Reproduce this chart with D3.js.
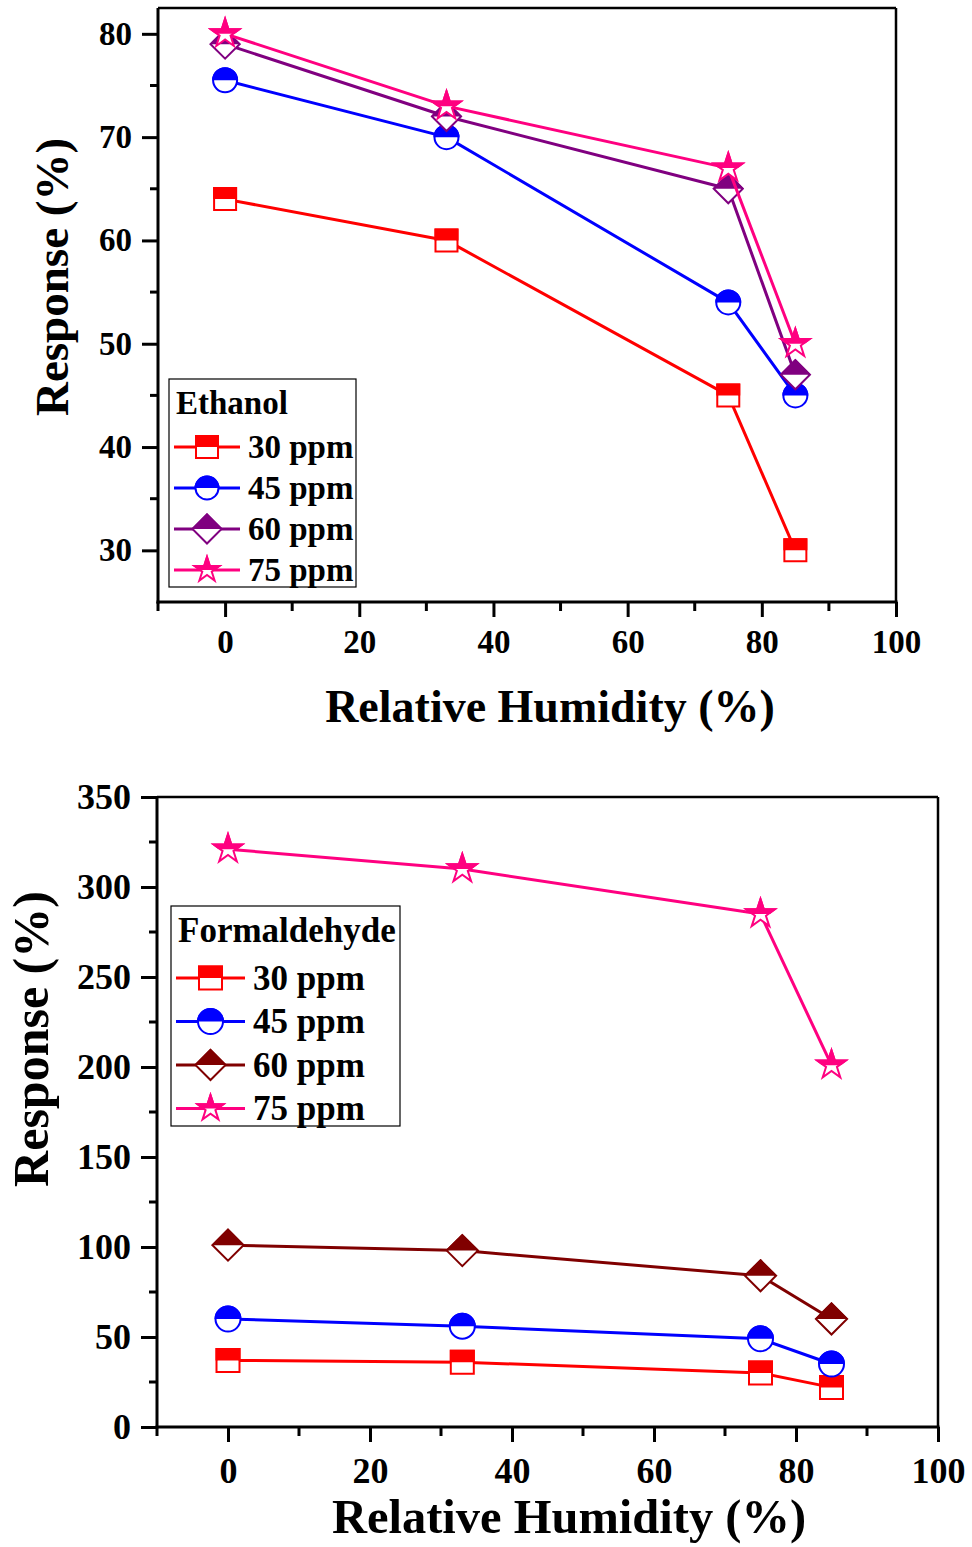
<!DOCTYPE html>
<html>
<head>
<meta charset="utf-8">
<script src="https://cdn.jsdelivr.net/npm/d3@7"></script>
<style>
  body { margin: 0; background: #fff; }
  svg text { font-family: "Liberation Serif", "Times New Roman", serif; font-weight: bold; fill: #000; }
</style>
</head>
<body>
<svg id="chart" width="972" height="1547"></svg>
<script>
// ---- data ----
const humidity = [0, 33, 75, 85];
const concLabels = ["30 ppm", "45 ppm", "60 ppm", "75 ppm"];

const ethanol30 = [64, 60, 45, 30];
const ethanol45 = [75.5, 70, 54, 45];
const ethanol60 = [79, 72, 65, 47];
const ethanol75 = [80, 73, 67, 50];

const formal30 = [37, 36, 30, 22];
const formal45 = [60, 56, 49, 35];
const formal60 = [101, 98, 84, 60];
const formal75 = [321, 310, 285, 201];

const xTicks = [0, 20, 40, 60, 80, 100];
const xMinor = [-10, 10, 30, 50, 70, 90];
const ethanolYTicks = [30, 40, 50, 60, 70, 80];
const ethanolYMinor = [35, 45, 55, 65, 75];
const formalYTicks = [0, 50, 100, 150, 200, 250, 300, 350];
const formalYMinor = [25, 75, 125, 175, 225, 275, 325];

const shapes = ["square", "circle", "diamond", "star"];

const svg = d3.select("#chart");

// clip used to fill only the top half of every marker
svg.append("defs").append("clipPath")
   .attr("id", "tophalf")
   .append("rect")
   .attr("x", -50).attr("y", -50).attr("width", 100).attr("height", 50);

function shapePath(type, s) {
  if (type == "square") return `M${-s},${-s}H${s}V${s}H${-s}Z`;
  if (type == "diamond") return `M0,${-s}L${s},0L0,${s}L${-s},0Z`;
  if (type == "circle") {
    const p = d3.path();
    p.arc(0, 0, s, 0, 2 * Math.PI);
    p.closePath();
    return p.toString();
  }
  // five point star
  const pts = [];
  for (let i = 0; i < 10; i++) {
    const r = i % 2 == 0 ? s : s * 0.382;
    const a = -Math.PI / 2 + i * Math.PI / 5;
    pts.push([r * Math.cos(a), r * Math.sin(a)]);
  }
  return "M" + pts.map(p => p.join(",")).join("L") + "Z";
}

function marker(g, type, s, color) {
  g.append("path").attr("d", shapePath(type, s))
   .attr("fill", "#fff").attr("stroke", color).attr("stroke-width", 2);
  g.append("path").attr("d", shapePath(type, s))
   .attr("fill", color).attr("stroke", color).attr("stroke-width", 2)
   .attr("clip-path", "url(#tophalf)");
}

function drawPanel(p) {
  const x = d3.scaleLinear().domain([-10, 100]).range([p.left, p.right]);
  const y = d3.scaleLinear().domain(p.yDomain).range([p.bottom, p.top]);
  const g = svg.append("g");

  // x axis ticks + labels
  const xAxis = g.append("g")
     .attr("transform", `translate(0,${p.bottom})`)
     .call(d3.axisBottom(x).tickValues(xTicks).tickSize(15).tickPadding(p.xPad).tickFormat(d3.format("d")));
  xAxis.select(".domain").remove();
  xAxis.selectAll("line").attr("stroke-width", 3);
  xAxis.selectAll("text").attr("font-size", p.tickFont).attr("fill", "#000")
       .attr("font-family", "Liberation Serif").attr("font-weight", "bold");
  g.selectAll(".xminor").data(xMinor).join("line")
   .attr("x1", d => x(d)).attr("x2", d => x(d))
   .attr("y1", p.bottom).attr("y2", p.bottom + 9)
   .attr("stroke", "#000").attr("stroke-width", 3);

  // y axis ticks + labels
  const yAxis = g.append("g")
     .attr("transform", `translate(${p.left},0)`)
     .call(d3.axisLeft(y).tickValues(p.yTicks).tickSize(16).tickPadding(10).tickFormat(d3.format("d")));
  yAxis.select(".domain").remove();
  yAxis.selectAll("line").attr("stroke-width", 3);
  yAxis.selectAll("text").attr("font-size", p.tickFont).attr("fill", "#000")
       .attr("font-family", "Liberation Serif").attr("font-weight", "bold");
  g.selectAll(".yminor").data(p.yMinor).join("line")
   .attr("x1", p.left - 8).attr("x2", p.left)
   .attr("y1", d => y(d)).attr("y2", d => y(d))
   .attr("stroke", "#000").attr("stroke-width", 3);

  // frame
  g.append("line").attr("x1", p.left).attr("x2", p.right).attr("y1", p.top).attr("y2", p.top)
   .attr("stroke", "#000").attr("stroke-width", 2.5);
  g.append("line").attr("x1", p.right).attr("x2", p.right).attr("y1", p.top).attr("y2", p.bottom)
   .attr("stroke", "#000").attr("stroke-width", 2.5);
  g.append("line").attr("x1", p.left).attr("x2", p.left).attr("y1", p.top).attr("y2", p.bottom + 1.5)
   .attr("stroke", "#000").attr("stroke-width", 3);
  g.append("line").attr("x1", p.left - 1.5).attr("x2", p.right + 1.5).attr("y1", p.bottom).attr("y2", p.bottom)
   .attr("stroke", "#000").attr("stroke-width", 3);

  // axis titles
  g.append("text").attr("x", p.xTitleX).attr("y", p.xTitleY)
   .attr("text-anchor", "middle").attr("font-size", p.titleFont)
   .text("Relative Humidity (%)");
  g.append("text")
   .attr("transform", `translate(${p.yTitleX},${p.yTitleY}) rotate(-90)`)
   .attr("text-anchor", "middle").attr("font-size", p.yTitleFont)
   .text("Response (%)");

  // series
  const line = d3.line().x((d, i) => x(humidity[i])).y(d => y(d));
  p.series.forEach((vals, k) => {
    g.append("path").datum(vals).attr("d", line)
     .attr("fill", "none").attr("stroke", p.colors[k]).attr("stroke-width", 3)
     .attr("stroke-linejoin", "round");
    vals.forEach((v, i) => {
      const m = g.append("g").attr("transform", `translate(${x(humidity[i])},${y(v)})`);
      marker(m, shapes[k], p.sizes[k], p.colors[k]);
    });
  });

  // legend
  const L = p.legend;
  g.append("rect").attr("x", L.x).attr("y", L.y).attr("width", L.w).attr("height", L.h)
   .attr("fill", "#fff").attr("stroke", "#000").attr("stroke-width", 1.2);
  g.append("text").attr("x", L.x + 7).attr("y", L.titleY).attr("font-size", L.font).text(p.name);
  concLabels.forEach((lab, k) => {
    const ry = L.row0 + k * L.step;
    g.append("line").attr("x1", L.x + 5).attr("x2", L.x + L.lineW).attr("y1", ry).attr("y2", ry)
     .attr("stroke", p.colors[k]).attr("stroke-width", 3);
    const m = g.append("g").attr("transform", `translate(${L.x + 5 + (L.lineW - 5) / 2},${ry})`);
    marker(m, shapes[k], L.sizes[k], p.colors[k]);
    g.append("text").attr("x", L.x + L.lineW + 8).attr("y", ry).attr("dy", "0.34em")
     .attr("font-size", L.font).text(lab);
  });
}

drawPanel({
  name: "Ethanol",
  left: 158, right: 896, top: 8, bottom: 602,
  yDomain: [25, 82.5], yTicks: ethanolYTicks, yMinor: ethanolYMinor,
  series: [ethanol30, ethanol45, ethanol60, ethanol75],
  colors: ["#ff0000", "#0000ff", "#800080", "#ff0080"],
  sizes: [11, 12, 14.5, 15],
  tickFont: 33, xPad: 13, titleFont: 46, yTitleFont: 47,
  xTitleX: 550, xTitleY: 722, yTitleX: 68, yTitleY: 277,
  legend: { x: 169, y: 379, w: 187, h: 208, titleY: 414, row0: 447, step: 41, lineW: 71,
            font: 33, sizes: [11, 11.5, 14.5, 13] }
});

drawPanel({
  name: "Formaldehyde",
  left: 157, right: 938, top: 797, bottom: 1427,
  yDomain: [0, 350], yTicks: formalYTicks, yMinor: formalYMinor,
  series: [formal30, formal45, formal60, formal75],
  colors: ["#ff0000", "#0000ff", "#800000", "#ff0080"],
  sizes: [11.5, 12.5, 15.5, 15],
  tickFont: 36, xPad: 15, titleFont: 48.5, yTitleFont: 50,
  xTitleX: 569, xTitleY: 1533, yTitleX: 48, yTitleY: 1039,
  legend: { x: 171, y: 906, w: 229, h: 220, titleY: 942, row0: 978, step: 43.5, lineW: 74,
            font: 35, sizes: [11.5, 12.5, 15, 13.5] }
});
</script>
</body>
</html>
